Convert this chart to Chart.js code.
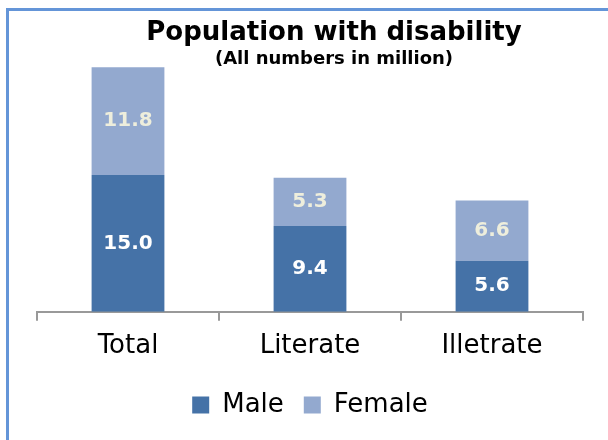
<!DOCTYPE html>
<html>
<head>
<meta charset="utf-8">
<script src="https://cdn.jsdelivr.net/npm/chart.js@4/dist/chart.umd.min.js"></script>
<style>
  html, body { margin: 0; padding: 0; background: #fff; }
  #wrap { position: relative; width: 608px; height: 440px; }
  #frame {
    position: absolute; left: 6px; top: 8px; right: 0; bottom: 0;
    border-left: 3px solid #6495d8; border-top: 3px solid #6495d8;
    pointer-events: none;
  }
  canvas { position: absolute; left: 0; top: 0; }
</style>
</head>
<body>
<div id="wrap">
  <canvas id="chart" width="608" height="440"></canvas>
  <div id="frame"></div>
</div>
<script>
/* =========================
   DATA
========================= */
const categories = ["Total", "Literate", "Illetrate"];
const male = [15.0, 9.4, 5.6];
const female = [11.8, 5.3, 6.6];

const titleText = "Population with disability";
const subtitleText = "(All numbers in million)";

/* =========================
   PLUGINS
========================= */
const titlePlugin = {
  id: "titleText",
  afterDraw(chart) {
    const ctx = chart.ctx;
    ctx.save();
    ctx.fillStyle = "#000";
    ctx.textAlign = "center";
    ctx.textBaseline = "middle";
    ctx.font = "bold 26px 'DejaVu Sans'";
    ctx.fillText(titleText, 334, 33);
    ctx.font = "bold 18px 'DejaVu Sans'";
    ctx.fillText(subtitleText, 334, 59);
    ctx.restore();
  }
};

const valueLabels = {
  id: "valueLabels",
  afterDatasetsDraw(chart) {
    const ctx = chart.ctx;
    ctx.save();
    ctx.font = "bold 20px 'DejaVu Sans'";
    ctx.textAlign = "center";
    ctx.textBaseline = "middle";
    chart.data.datasets.forEach((ds, i) => {
      chart.getDatasetMeta(i).data.forEach((bar, j) => {
        const mid = (bar.y + bar.base) / 2;
        ctx.fillStyle = i === 0 ? "#ffffff" : "#eeeedc";
        ctx.fillText(ds.data[j].toFixed(1), bar.x, mid);
      });
    });
    ctx.restore();
  }
};

/* =========================
   CHART
========================= */
new Chart(document.getElementById("chart"), {
  type: "bar",
  data: {
    labels: categories,
    datasets: [
      { label: "Male", data: male, backgroundColor: "#4572a7" },
      { label: "Female", data: female, backgroundColor: "#93a9cf" }
    ]
  },
  options: {
    responsive: false,
    animation: false,
    layout: { padding: { left: 37, right: 25, top: 38, bottom: 12 } },
    datasets: {
      bar: { barPercentage: 0.4, categoryPercentage: 1 }
    },
    scales: {
      x: {
        stacked: true,
        border: { display: true, color: "#999", width: 2 },
        grid: { drawOnChartArea: false, drawTicks: true, tickLength: 9, color: "#999", lineWidth: 2 },
        ticks: { color: "#000", font: { family: "'DejaVu Sans'", size: 26 }, padding: 10 }
      },
      y: {
        stacked: true,
        display: false,
        min: 0,
        max: 30
      }
    },
    plugins: {
      legend: {
        position: "bottom",
        labels: {
          boxWidth: 17,
          boxHeight: 17,
          color: "#000",
          padding: 20,
          font: { family: "'DejaVu Sans'", size: 26 }
        }
      },
      tooltip: { enabled: false }
    }
  },
  plugins: [titlePlugin, valueLabels]
});
</script>
</body>
</html>
